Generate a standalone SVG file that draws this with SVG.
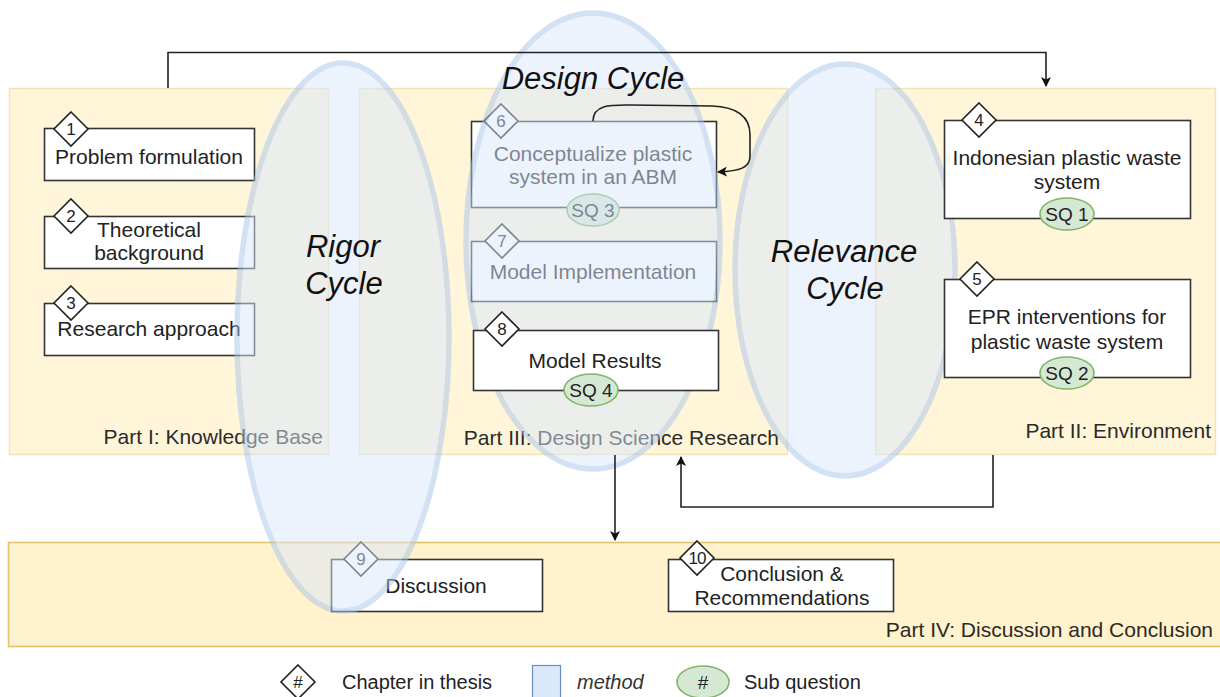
<svg xmlns="http://www.w3.org/2000/svg" xmlns:xlink="http://www.w3.org/1999/xlink" width="1220" height="697" viewBox="0 0 1220 697">
  <style>
    text { font-family: "Liberation Sans", Arial, sans-serif; fill: #222; }
    .t { font-size: 21px; text-anchor: middle; }
    .part { font-size: 21px; text-anchor: end; fill: #2a2a2a; }
    .cyc { font-size: 31px; font-style: italic; text-anchor: middle; fill: #111; }
    .num { font-size: 17px; text-anchor: middle; }
    .sqt { font-size: 19px; text-anchor: middle; }
    .box { fill: #fff; stroke: #333; stroke-width: 1.6; }
    .dia { fill: #fff; stroke: #222; stroke-width: 1.6; }
    .sq { fill: #d5e8d4; stroke: #82b366; stroke-width: 1.6; }
    .zone { fill: #fff2cc; fill-opacity: 0.72; stroke: #d6b656; stroke-opacity: 0.35; stroke-width: 1.5; }
    .zone4 { fill: #fff2cc; stroke: #e2c46e; stroke-width: 1.6; }
    .cycle { fill: #dae8fc; stroke: #a9c4eb; stroke-width: 5.5; opacity: 0.5; }
    .edge { fill: none; stroke: #222; stroke-width: 1.6; }
  </style>
  <defs>
    <path id="dia" d="M0,-17 L17,0 L0,17 L-17,0 Z"/>
    <marker id="arrow" viewBox="0 0 10 10" refX="9" refY="5" markerWidth="10" markerHeight="10" markerUnits="userSpaceOnUse" orient="auto">
      <path d="M0,0 L10,5 L0,10 L2.5,5 Z" fill="#111"/>
    </marker>
  </defs>

  <rect width="1220" height="697" fill="#fff"/>

  <!-- parts (background zones) -->
  <g id="part-1">
    <rect class="zone" x="9.5" y="88.5" width="319" height="366"/>
    <text class="part" x="323" y="444">Part I: Knowledge Base</text>
  </g>
  <g id="part-3">
    <rect class="zone" x="359.5" y="88.5" width="428" height="366"/>
    <text class="part" x="779" y="445">Part III: Design Science Research</text>
  </g>
  <g id="part-2">
    <rect class="zone" x="875.5" y="88.5" width="340" height="366"/>
    <text class="part" x="1211" y="438">Part II: Environment</text>
  </g>
  <g id="part-4">
    <rect class="zone4" x="8.5" y="542.5" width="1216" height="104"/>
    <text class="part" x="1213" y="637">Part IV: Discussion and Conclusion</text>
  </g>

  <!-- chapters lying under the cycle ellipses -->
  <g id="ch1">
    <rect class="box" x="44.5" y="128.5" width="210" height="52"/>
    <use xlink:href="#dia" class="dia" x="71" y="129"/>
    <text class="num" x="71" y="135">1</text>
    <text class="t" x="149" y="164">Problem formulation</text>
  </g>
  <g id="ch2">
    <rect class="box" x="44.5" y="216.5" width="210" height="52"/>
    <use xlink:href="#dia" class="dia" x="71" y="216"/>
    <text class="num" x="71" y="222">2</text>
    <text class="t" x="149" y="237">Theoretical</text>
    <text class="t" x="149" y="260">background</text>
  </g>
  <g id="ch3">
    <rect class="box" x="44.5" y="303.5" width="210" height="52"/>
    <use xlink:href="#dia" class="dia" x="71" y="303"/>
    <text class="num" x="71" y="309">3</text>
    <text class="t" x="149" y="336">Research approach</text>
  </g>
  <g id="ch6">
    <rect class="box" x="471.5" y="121.5" width="245" height="86"/>
    <use xlink:href="#dia" class="dia" x="501" y="121"/>
    <text class="num" x="501" y="127">6</text>
    <text class="t" x="593" y="161">Conceptualize plastic</text>
    <text class="t" x="593" y="184">system in an ABM</text>
    <ellipse class="sq" cx="593" cy="210" rx="26" ry="16"/>
    <text class="sqt" x="593" y="217">SQ 3</text>
  </g>
  <g id="ch7">
    <rect class="box" x="471.5" y="241.5" width="245" height="60"/>
    <use xlink:href="#dia" class="dia" x="502" y="241"/>
    <text class="num" x="502" y="247">7</text>
    <text class="t" x="593" y="279">Model Implementation</text>
  </g>
  <g id="ch9">
    <rect class="box" x="331.5" y="559.5" width="211" height="52"/>
    <use xlink:href="#dia" class="dia" x="361" y="559"/>
    <text class="num" x="361" y="565">9</text>
    <text class="t" x="436" y="593">Discussion</text>
  </g>

  <!-- cycles -->
  <g id="cycles">
    <ellipse class="cycle" cx="343" cy="337" rx="106" ry="274"/>
    <ellipse class="cycle" cx="593" cy="241" rx="127" ry="228"/>
    <ellipse class="cycle" cx="845" cy="270" rx="110" ry="206"/>
  </g>

  <!-- chapters drawn above the ellipses -->
  <g id="ch8">
    <rect class="box" x="473.5" y="330.5" width="245" height="60"/>
    <use xlink:href="#dia" class="dia" x="502" y="329"/>
    <text class="num" x="502" y="335">8</text>
    <text class="t" x="595" y="368">Model Results</text>
    <ellipse class="sq" cx="591" cy="390" rx="27" ry="16"/>
    <text class="sqt" x="591" y="397">SQ 4</text>
  </g>
  <g id="ch4">
    <rect class="box" x="944.5" y="120.5" width="246" height="98"/>
    <use xlink:href="#dia" class="dia" x="979" y="120"/>
    <text class="num" x="979" y="126">4</text>
    <text class="t" x="1067" y="165">Indonesian plastic waste</text>
    <text class="t" x="1067" y="189">system</text>
    <ellipse class="sq" cx="1067" cy="214" rx="27" ry="16"/>
    <text class="sqt" x="1067" y="221">SQ 1</text>
  </g>
  <g id="ch5">
    <rect class="box" x="944.5" y="279.5" width="246" height="98"/>
    <use xlink:href="#dia" class="dia" x="977" y="279"/>
    <text class="num" x="977" y="285">5</text>
    <text class="t" x="1067" y="324">EPR interventions for</text>
    <text class="t" x="1067" y="349">plastic waste system</text>
    <ellipse class="sq" cx="1067" cy="373" rx="27" ry="16"/>
    <text class="sqt" x="1067" y="380">SQ 2</text>
  </g>
  <g id="ch10">
    <rect class="box" x="668.5" y="559.5" width="225" height="52"/>
    <use xlink:href="#dia" class="dia" x="697" y="558"/>
    <text class="num" x="697" y="564" style="letter-spacing:-1px">10</text>
    <text class="t" x="782" y="581">Conclusion &amp;</text>
    <text class="t" x="782" y="605">Recommendations</text>
  </g>

  <!-- cycle labels -->
  <g id="cycle-labels">
    <text class="cyc" x="593" y="89">Design Cycle</text>
    <text class="cyc" x="343" y="257">Rigor</text>
    <text class="cyc" x="344" y="294">Cycle</text>
    <text class="cyc" x="844" y="262">Relevance</text>
    <text class="cyc" x="845" y="299">Cycle</text>
  </g>

  <!-- connectors -->
  <g id="connectors">
    <path class="edge" d="M168,88 V52.5 H1046 V86" marker-end="url(#arrow)"/>
    <path class="edge" d="M593,121 C593,104 612,105 630,105 L712,106 C740,107 750,118 750,135 L750,156 C750,168 740,171 718,172" marker-end="url(#arrow)"/>
    <path class="edge" d="M615,455 V540" marker-end="url(#arrow)"/>
    <path class="edge" d="M993,455 V507 H681 V457" marker-end="url(#arrow)"/>
  </g>

  <!-- legend -->
  <g id="legend">
    <use xlink:href="#dia" class="dia" x="298" y="682"/>
    <text class="num" x="298" y="688">#</text>
    <text x="342" y="689" style="font-size:20px">Chapter in thesis</text>
    <rect x="532.5" y="665.5" width="28" height="34" fill="#dae8fc" stroke="#6c8ebf" stroke-width="1.2"/>
    <text x="577" y="689" style="font-size:20px;font-style:italic;fill:#333">method</text>
    <ellipse class="sq" cx="703" cy="682" rx="26" ry="16"/>
    <text class="sqt" x="703" y="689">#</text>
    <text x="744" y="689" style="font-size:20px">Sub question</text>
  </g>
</svg>
